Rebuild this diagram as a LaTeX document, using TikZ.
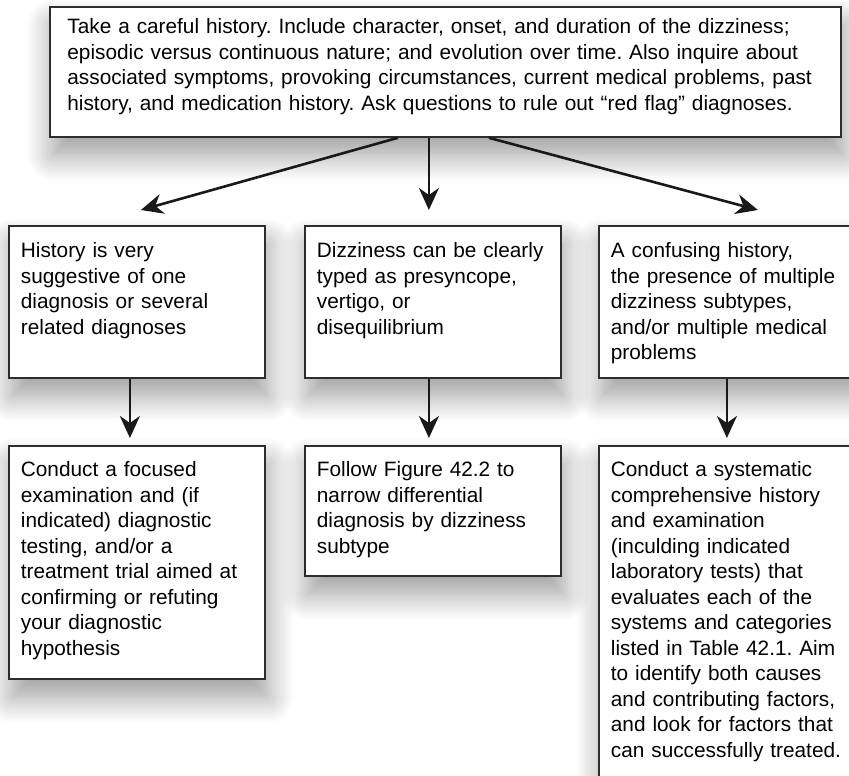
\documentclass[tikz,border=0pt]{standalone}
\usepackage{fontspec}
\setmainfont{Liberation Sans}
\usetikzlibrary{arrows.meta,shadows.blur}
\definecolor{boxline}{RGB}{45,45,45}
\definecolor{arrowline}{RGB}{25,25,25}
\frenchspacing
\tikzset{
  font=\fontsize{10.4}{12.75}\selectfont,
  >={Stealth[length=11pt,width=10pt,inset=3.5pt]},
  card/.style={
    draw=boxline,
    line width=0.9pt,
    fill=white,
    align=left,
    inner xsep=6pt,
    inner ysep=0pt,
    text width=116pt,
    blur shadow={shadow xshift=1.5pt,shadow yshift=-9pt,
      shadow blur radius=13pt,shadow blur steps=16,shadow opacity=40}
  },
  question/.style={card,text height=16pt,text depth=60pt},
  action/.style={card,text height=15.5pt},
  arrow/.style={->,draw=arrowline,line width=1.3pt}
}

\begin{document}
\begin{tikzpicture}[x=0.5pt,y=-0.5pt]

  \useasboundingbox (0,0) rectangle (849,775);
  \clip (0,0) rectangle (849,775);

  \node[card,anchor=north west,text width=378pt,inner xsep=8.75pt,
    text height=13.5pt,text depth=51.5pt] at (49,6) (history) {
    Take a careful history. Include character, onset, and duration of the dizziness;\\
    episodic versus continuous nature; and evolution over time. Also inquire about\\
    associated symptoms, provoking circumstances, current medical problems, past\\
    history, and medication history. Ask questions to rule out “red flag” diagnoses.
  };

  \node[question,anchor=north west] at (8,225) (suggest) {
    History is very\\
    suggestive of one\\
    diagnosis or several\\
    related diagnoses
  };

  \node[question,anchor=north west] at (304,225) (typed) {
    Dizziness can be clearly\\
    typed as presyncope,\\
    vertigo, or\\
    disequilibrium
  };

  \node[question,anchor=north west,text width=128pt] at (598,225) (confusing) {
    A confusing history,\\
    the presence of multiple\\
    dizziness subtypes,\\
    and/or multiple medical\\
    problems
  };

  \node[action,anchor=north west,text depth=101pt] at (8,445) (focused) {
    Conduct a focused\\
    examination and (if\\
    indicated) diagnostic\\
    testing, and/or a\\
    treatment trial aimed at\\
    confirming or refuting\\
    your diagnostic\\
    hypothesis
  };

  \node[action,anchor=north west,text depth=49.5pt] at (304,445) (follow) {
    Follow Figure 42.2 to\\
    narrow differential\\
    diagnosis by dizziness\\
    subtype
  };

  \node[action,anchor=north west,text width=128pt,text depth=162pt] at (598,445) (systematic) {
    Conduct a systematic\\
    comprehensive history\\
    and examination\\
    (inculding indicated\\
    laboratory tests) that\\
    evaluates each of the\\
    systems and categories\\
    listed in Table 42.1. Aim\\
    to identify both causes\\
    and contributing factors,\\
    and look for factors that\\
    can successfully treated.
  };

  \draw[arrow] ([xshift=-23.75pt]history.south) -- ([xshift=2pt,yshift=7.5pt]suggest.north);
  \draw[arrow] ([xshift=-8.25pt]history.south) -- ([xshift=-2pt,yshift=7.5pt]typed.north);
  \draw[arrow] ([xshift=21.75pt]history.south) -- ([xshift=9.5pt,yshift=7.5pt]confusing.north);
  \draw[arrow] ([xshift=-3.5pt]suggest.south) -- ([xshift=-3.5pt,yshift=3.5pt]focused.north);
  \draw[arrow] ([xshift=-2pt]typed.south) -- ([xshift=-2pt,yshift=3.5pt]follow.north);
  \draw[arrow] ([xshift=-6pt]confusing.south) -- ([xshift=-6pt,yshift=3.5pt]systematic.north);

\end{tikzpicture}
\end{document}
